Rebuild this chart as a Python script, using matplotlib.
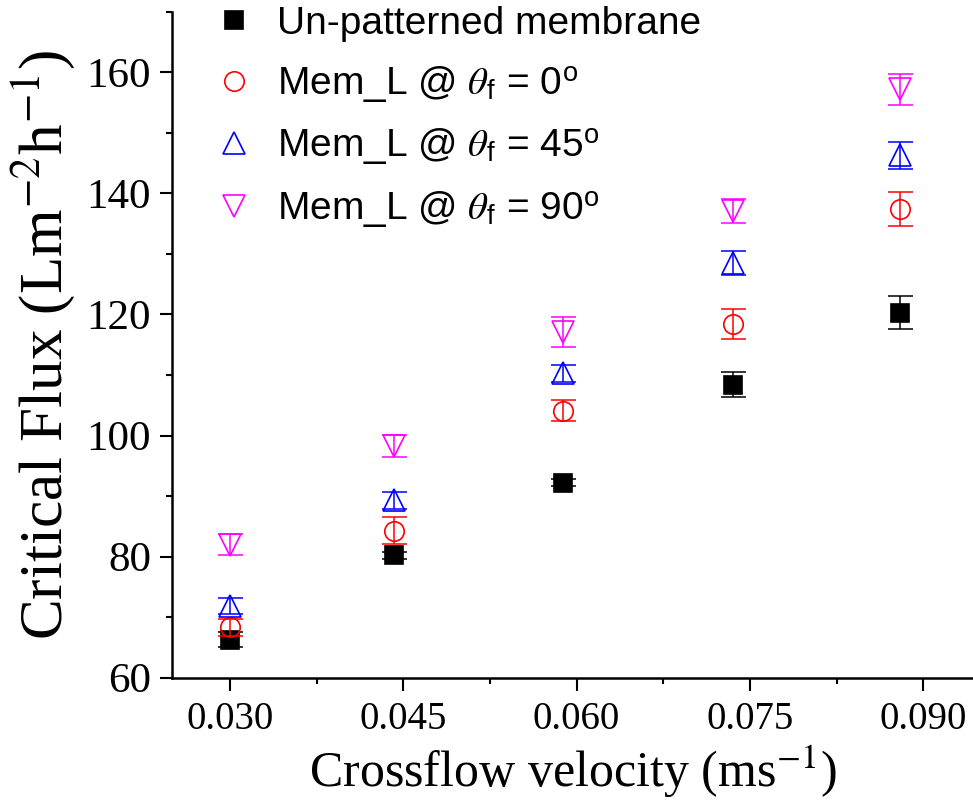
import matplotlib
matplotlib.use('Agg')
import matplotlib.pyplot as plt

# Crossflow velocity (m/s) and critical flux (L m-2 h-1)
velocity = [0.0300, 0.0442, 0.0588, 0.0735, 0.0880]

flux_plain = [66.3, 80.2, 92.2, 108.4, 120.3]
err_plain = [1.2, 0.6, 0.6, 2.1, 2.7]

flux_0 = [68.3, 84.3, 104.1, 118.4, 137.4]
err_0 = [1.4, 2.2, 1.7, 2.5, 2.8]

flux_45 = [71.9, 89.3, 110.3, 128.5, 146.3]
err_45 = [1.3, 1.4, 1.4, 2.0, 2.25]

flux_90 = [82.0, 98.3, 117.1, 137.1, 157.2]
err_90 = [1.8, 1.8, 2.4, 2.0, 2.55]

labels = ['Un-patterned membrane',
          r'Mem_L @ $\theta_{\mathregular{f}}$ = 0$^{\mathregular{o}}$',
          r'Mem_L @ $\theta_{\mathregular{f}}$ = 45$^{\mathregular{o}}$',
          r'Mem_L @ $\theta_{\mathregular{f}}$ = 90$^{\mathregular{o}}$']
xticks = [0.030, 0.045, 0.060, 0.075, 0.090]
yticks = [60, 80, 100, 120, 140, 160]

plt.rcParams['font.family'] = 'Liberation Serif'
plt.rcParams['mathtext.fontset'] = 'stix'

fig = plt.figure(figsize=(9.73, 8.10), dpi=100)
ax = fig.add_axes([0.1768, 0.1633, 0.8232, 0.8223])

series = [
    (flux_plain, err_plain, 's', 'black', 13, 'black'),
    (flux_0, err_0, 'o', 'red', 14, 'none'),
    (flux_45, err_45, '^', 'blue', 15.5, 'none'),
    (flux_90, err_90, 'v', 'magenta', 15.5, 'none'),
]

for (y, e, m, c, ms, fc), lab in zip(series, labels):
    ax.errorbar(velocity, y, yerr=e, fmt='none', ecolor=c, elinewidth=1.1,
                capsize=9, capthick=1.1)
    ax.plot(velocity, y, ls='none', marker=m, ms=ms, mfc=fc, mec=c, mew=1.2,
            label=lab)

ax.set_xlim(0.0250, 0.0943)
ax.set_ylim(60, 170)
ax.set_xticks(xticks)
ax.set_xticklabels(['%.3f' % v for v in xticks])
ax.set_xticks([0.0375, 0.0525, 0.0675, 0.0825], minor=True)
ax.set_yticks(yticks)
ax.set_yticks([70, 90, 110, 130, 150, 170], minor=True)

ax.spines['top'].set_visible(False)
ax.spines['right'].set_visible(False)
ax.spines['left'].set_linewidth(1.8)
ax.spines['bottom'].set_linewidth(1.8)
ax.tick_params(which='major', direction='out', length=9, width=1.5)
ax.tick_params(which='minor', direction='out', length=4.5, width=1.5)
ax.tick_params(axis='x', labelsize=28, pad=8)
ax.tick_params(axis='y', labelsize=31, pad=6)

ax.set_xlabel(r'Crossflow velocity (ms$^{-1}$)', fontsize=36, labelpad=4)
ax.set_ylabel(r'Critical Flux (Lm$^{-2}$h$^{-1}$)', fontsize=44, labelpad=7)

ax.legend(loc='upper left', bbox_to_anchor=(0.029, 1.032), frameon=False,
          prop={'family': 'Liberation Sans', 'size': 28},
          handletextpad=0.5, labelspacing=0.56, borderaxespad=0,
          handlelength=1.2)

fig.savefig('out.png', dpi=100)
